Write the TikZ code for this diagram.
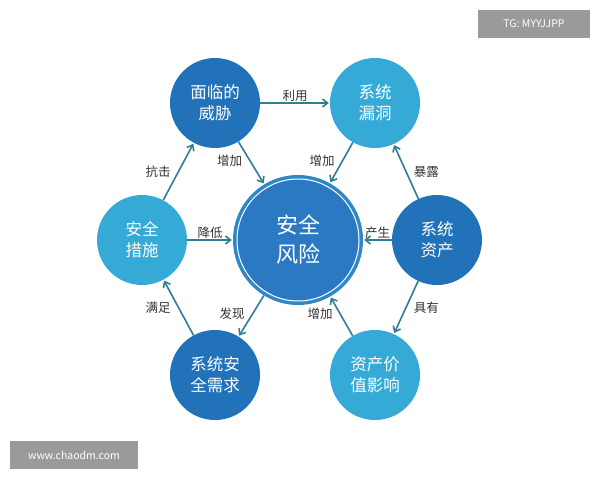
\documentclass[tikz,border=0pt]{standalone}
\usepackage{fontspec}
\setmainfont{Noto Sans CJK SC}
\usetikzlibrary{arrows.meta}
\definecolor{dk}{HTML}{2272BA}
\definecolor{lt}{HTML}{35AAD6}
\definecolor{ctr}{HTML}{2B79C2}
\definecolor{arr}{HTML}{2E7E96}
\definecolor{wm}{HTML}{9A9A9A}
\begin{document}
\begin{tikzpicture}[x=1pt,y=-1pt,
  ball/.style={circle,minimum size=90pt,inner sep=0pt,text=white,font=\fontsize{16.5}{21}\selectfont,align=center},
  dkball/.style={ball,fill=dk},
  ltball/.style={ball,fill=lt},
  conn/.style={-{Straight Barb[length=5pt,width=8pt]},arr,line width=1.6pt,shorten >=1pt},
  lab/.style={font=\fontsize{12.5}{15}\selectfont,text=black!80,inner sep=1pt}]
\useasboundingbox (0,0) rectangle (600,480);
\fill[white] (0,0) rectangle (600,480);
\node[circle,minimum size=130pt,inner sep=0pt,fill=ctr!70!lt] (c) at (298,240) {};
\node[circle,minimum size=122pt,inner sep=0pt,fill=ctr,draw=white,line width=1pt,text=white,font=\fontsize{22}{29}\selectfont,align=center] at (298,240) {安全\\风险};
\node[dkball] (t) at (215,103) {面临的\\威胁};
\node[ltball] (v) at (375,103) {系统\\漏洞};
\node[dkball] (a) at (437,240) {系统\\资产};
\node[ltball] (i) at (375,375) {资产价\\值影响};
\node[dkball] (r) at (215,375) {系统安\\全需求};
\node[ltball] (m) at (142,240) {安全\\措施};
\draw[conn] (t) -- node[lab,above]{利用} (v);
\draw[conn] (t) -- node[lab,left=6pt,pos=0.45]{增加} (c);
\draw[conn] (v) -- node[lab,left=6pt,pos=0.45]{增加} (c);
\draw[conn] (a) -- node[lab,right=6pt]{暴露} (v);
\draw[conn] (a) -- node[lab,above]{产生} (c);
\draw[conn] (a) -- node[lab,right=6pt]{具有} (i);
\draw[conn] (i) -- node[lab,left=6pt,pos=0.55]{增加} (c);
\draw[conn] (c) -- node[lab,left=6pt,pos=0.45]{发现} (r);
\draw[conn] (r) -- node[lab,left=6pt]{满足} (m);
\draw[conn] (m) -- node[lab,above]{降低} (c);
\draw[conn] (m) -- node[lab,left=6pt]{抗击} (t);
\node[fill=wm,text=white,minimum width=112pt,minimum height=28pt,font=\fontsize{10.5}{12}\selectfont] (w1) at (534,24) {TG: MYYJJPP};
\node[fill=wm,text=white,minimum width=128pt,minimum height=28pt,font=\fontsize{10.5}{12}\selectfont] (w2) at (74,455) {www.chaodm.com};
\end{tikzpicture}
\end{document}
